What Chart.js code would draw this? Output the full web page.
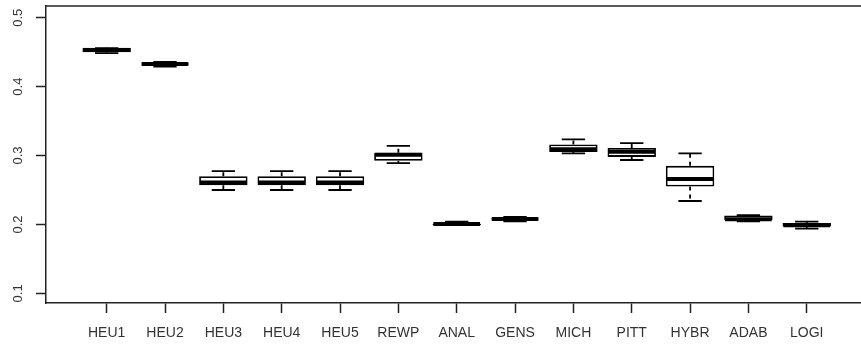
<!DOCTYPE html>
<html lang="en">
<head>
    <meta charset="UTF-8">
    <title>Boxplot</title>
    <script src="https://cdn.jsdelivr.net/npm/chart.js"></script>
    <style>
        body { margin: 0; background: #fff; }
        #wrap { width: 861px; height: 346px; }
    </style>
</head>
<body>
    <div id="wrap"><canvas id="boxChart" width="861" height="346"></canvas></div>
    <script>
        // values
        const categories = ['HEU1', 'HEU2', 'HEU3', 'HEU4', 'HEU5', 'REWP', 'ANAL', 'GENS', 'MICH', 'PITT', 'HYBR', 'ADAB', 'LOGI'];
        const whiskerLow = [0.4485, 0.429, 0.250, 0.250, 0.250, 0.289, 0.199, 0.2045, 0.303, 0.2935, 0.234, 0.2045, 0.194];
        const q1 = [0.450, 0.432, 0.257, 0.257, 0.257, 0.2925, 0.199, 0.2075, 0.305, 0.298, 0.255, 0.206, 0.197];
        const median = [0.453, 0.4328, 0.261, 0.261, 0.261, 0.301, 0.2005, 0.208, 0.309, 0.3055, 0.266, 0.2075, 0.199];
        const q3 = [0.4565, 0.4335, 0.270, 0.270, 0.270, 0.304, 0.201, 0.2085, 0.316, 0.311, 0.285, 0.213, 0.202];
        const whiskerHigh = [0.456, 0.436, 0.2775, 0.2775, 0.2775, 0.314, 0.204, 0.211, 0.3235, 0.318, 0.303, 0.2135, 0.204];
        const yTicks = [0.1, 0.2, 0.3, 0.4, 0.5];

        const boxWidth = 0.8;   // in category units, like R's boxwex
        const capWidth = 0.4;

        // whiskers, caps and medians on top of the floating bars
        const boxPlugin = {
            id: 'boxParts',
            afterDatasetsDraw(chart) {
                const ctx = chart.ctx;
                const x = chart.scales.x;
                const y = chart.scales.y;
                ctx.save();
                ctx.strokeStyle = '#000';
                categories.forEach((c, i) => {
                    const pos = i + 1;
                    const cx = x.getPixelForValue(pos);
                    const capL = x.getPixelForValue(pos - capWidth / 2);
                    const capR = x.getPixelForValue(pos + capWidth / 2);
                    const boxL = x.getPixelForValue(pos - boxWidth / 2);
                    const boxR = x.getPixelForValue(pos + boxWidth / 2);

                    // dashed whiskers
                    ctx.lineWidth = 1.8;
                    ctx.setLineDash([4, 4]);
                    ctx.beginPath();
                    ctx.moveTo(cx, y.getPixelForValue(q3[i]));
                    ctx.lineTo(cx, y.getPixelForValue(whiskerHigh[i]));
                    ctx.moveTo(cx, y.getPixelForValue(q1[i]));
                    ctx.lineTo(cx, y.getPixelForValue(whiskerLow[i]));
                    ctx.stroke();
                    ctx.setLineDash([]);

                    // caps
                    ctx.beginPath();
                    ctx.moveTo(capL, y.getPixelForValue(whiskerHigh[i]));
                    ctx.lineTo(capR, y.getPixelForValue(whiskerHigh[i]));
                    ctx.moveTo(capL, y.getPixelForValue(whiskerLow[i]));
                    ctx.lineTo(capR, y.getPixelForValue(whiskerLow[i]));
                    ctx.stroke();

                    // median
                    ctx.lineWidth = 4;
                    ctx.beginPath();
                    ctx.moveTo(boxL, y.getPixelForValue(median[i]));
                    ctx.lineTo(boxR, y.getPixelForValue(median[i]));
                    ctx.stroke();
                });
                ctx.restore();
            },
            beforeDraw(chart) {
                const ctx = chart.ctx;
                ctx.save();
                ctx.fillStyle = '#fff';
                ctx.fillRect(0, 0, chart.width, chart.height);
                ctx.restore();
            },
            afterDraw(chart) {
                // top of the frame box
                const a = chart.chartArea;
                const ctx = chart.ctx;
                ctx.save();
                ctx.strokeStyle = '#222';
                ctx.lineWidth = 1.5;
                ctx.beginPath();
                ctx.moveTo(a.left, a.top);
                ctx.lineTo(a.right, a.top);
                ctx.stroke();
                ctx.restore();
            }
        };

        new Chart(document.getElementById('boxChart'), {
            type: 'bar',
            data: {
                datasets: [{
                    data: categories.map((c, i) => ({ x: i + 1, y: [q1[i], q3[i]] })),
                    backgroundColor: '#fff',
                    borderColor: '#000',
                    borderWidth: 1.8,
                    borderSkipped: false,
                    categoryPercentage: boxWidth + 0.03,
                    barPercentage: 1
                }]
            },
            options: {
                responsive: false,
                devicePixelRatio: 1,
                animation: false,
                layout: { padding: { top: 6, left: 0, right: 0, bottom: 0 } },
                plugins: {
                    legend: { display: false },
                    tooltip: { enabled: false }
                },
                scales: {
                    x: {
                        type: 'linear',
                        min: -0.04,
                        max: 13.93,
                        offset: false,
                        afterBuildTicks: s => { s.ticks = categories.map((c, i) => ({ value: i + 1 })); },
                        afterFit: s => { s.height = 43; s.paddingLeft = 0; s.paddingRight = 0; },
                        grid: {
                            offset: false,
                            drawOnChartArea: false,
                            tickLength: 10,
                            tickColor: '#222',
                            tickWidth: 1.5
                        },
                        border: { color: '#222', width: 1.5 },
                        ticks: {
                            autoSkip: false,
                            maxRotation: 0,
                            padding: 12,
                            color: '#333',
                            font: { family: 'Liberation Sans, Arial, sans-serif', size: 14 },
                            callback: v => categories[v - 1]
                        }
                    },
                    y: {
                        min: 0.086,
                        max: 0.517,
                        afterBuildTicks: s => { s.ticks = yTicks.map(v => ({ value: v })); },
                        afterFit: s => { s.width = 46; s.paddingTop = 0; s.paddingBottom = 0; },
                        grid: {
                            drawOnChartArea: false,
                            tickLength: 10,
                            tickColor: '#222',
                            tickWidth: 1.5
                        },
                        border: { color: '#222', width: 1.5 },
                        ticks: {
                            minRotation: 90,
                            maxRotation: 90,
                            crossAlign: 'center',
                            padding: 9,
                            color: '#333',
                            font: { family: 'Liberation Sans, Arial, sans-serif', size: 13 },
                            callback: v => v.toFixed(1)
                        }
                    }
                }
            },
            plugins: [boxPlugin]
        });
    </script>
</body>
</html>
